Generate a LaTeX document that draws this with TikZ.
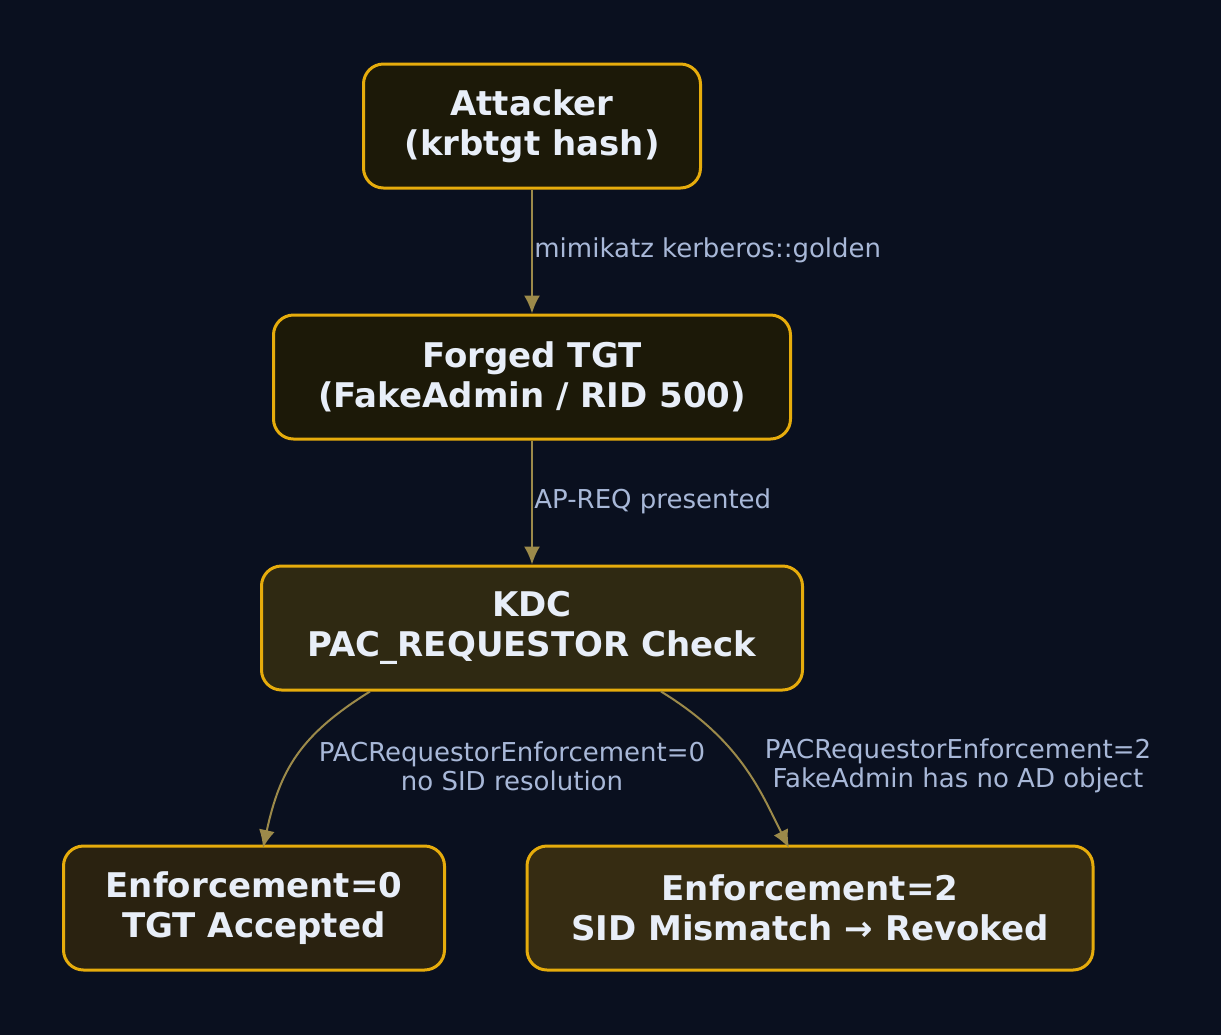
\documentclass[tikz,border=0pt]{standalone}
\usepackage{fontspec}
\setmainfont{DejaVu Sans}
\usetikzlibrary{arrows.meta}
\definecolor{bgcol}{HTML}{0A101F}
\definecolor{boxline}{HTML}{E6AC0C}
\definecolor{boxa}{HTML}{1C1908}
\definecolor{boxb}{HTML}{2F2912}
\definecolor{boxc}{HTML}{2A2210}
\definecolor{boxd}{HTML}{362C12}
\definecolor{edgecol}{HTML}{9C8A4A}
\definecolor{labcol}{HTML}{A8B8D8}
\definecolor{txtcol}{HTML}{E8EEF8}
\tikzset{
  box/.style={draw=boxline,line width=1.5pt,rounded corners=10pt,minimum height=62pt,
    align=center,text=txtcol,font=\fontsize{17}{20}\selectfont\bfseries,inner sep=0pt},
  flow/.style={draw=edgecol,line width=1pt,-{Latex[length=9pt,width=8pt]}},
  lab/.style={text=labcol,font=\fontsize{13}{14.5}\selectfont,align=center,inner sep=0pt}
}
\begin{document}
\begin{tikzpicture}[x=0.5pt,y=-0.5pt]
  \fill[bgcol] (0,0) rectangle (1221,1035);
  \useasboundingbox (0,0) rectangle (1221,1035);

  \node[box,fill=boxa,minimum width=168.5pt] (att) at (532,126) {Attacker\\(krbtgt hash)};
  \node[box,fill=boxa,minimum width=258.5pt] (tgt) at (532,377) {Forged TGT\\(FakeAdmin / RID 500)};
  \node[box,fill=boxb,minimum width=270.5pt] (kdc) at (532,628) {KDC\\PAC\_REQUESTOR Check};
  \node[box,fill=boxc,minimum width=190.5pt] (ok) at (254,908) {Enforcement=0\\TGT Accepted};
  \node[box,fill=boxd,minimum width=283pt] (rev) at (810,908) {Enforcement=2\\SID Mismatch → Revoked};

  \draw[flow] (att) -- (tgt);
  \node[lab,anchor=west] at (534,250) {mimikatz kerberos::golden};
  \draw[flow] (tgt) -- (kdc);
  \node[lab,anchor=west] at (534,501) {AP-REQ presented};

  \draw[flow] (kdc.south west) ++(110,0) coordinate (k1) .. controls (300,735) and (280,770) .. (263,848);
  \node[lab] at (512,766) {PACRequestorEnforcement=0\\no SID resolution};
  \draw[flow] (kdc.south east) ++(-143,0) coordinate (k2) .. controls (740,740) and (760,790) .. (789,848);
  \node[lab] at (958,766) {PACRequestorEnforcement=2\\FakeAdmin has no AD object};
\end{tikzpicture}
\end{document}
